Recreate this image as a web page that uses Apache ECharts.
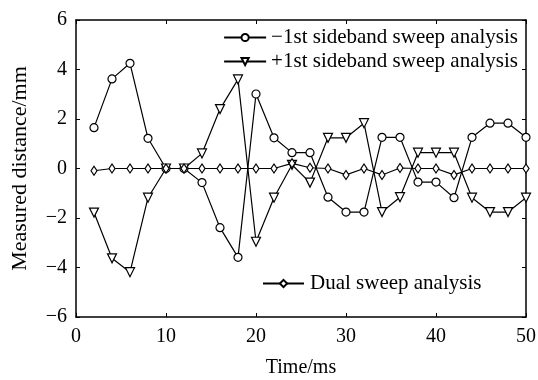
<!DOCTYPE html>
<html>
<head>
<meta charset="utf-8">
<script src="https://cdn.jsdelivr.net/npm/echarts@6/dist/echarts.min.js"></script>
<style>
    html, body { margin: 0; padding: 0; background: #fff; }
    #chart { width: 538px; height: 380px; }
</style>
</head>
<body>
<div id="chart"></div>
<script>
// time axis (ms)
const times = [2, 4, 6, 8, 10, 12, 14, 16, 18, 20, 22, 24, 26, 28, 30, 32, 34, 36, 38, 40, 42, 44, 46, 48, 50];
// -1st sideband sweep analysis
const minusFirst = [1.65, 3.62, 4.25, 1.22, 0, 0, -0.57, -2.39, -3.59, 3.01, 1.24, 0.64, 0.64, -1.16, -1.76, -1.76, 1.26, 1.26, -0.55, -0.55, -1.18, 1.26, 1.83, 1.83, 1.26];
// +1st sideband sweep analysis
const plusFirst = [-1.78, -3.63, -4.19, -1.18, 0, 0, 0.61, 2.4, 3.6, -2.96, -1.18, 0.15, -0.57, 1.24, 1.24, 1.83, -1.76, -1.16, 0.64, 0.64, 0.64, -1.18, -1.76, -1.76, -1.18];
// dual sweep analysis
const dualSweep = [-0.09, 0, 0, 0, 0, 0, 0, 0, 0, 0, 0, 0.21, 0.03, 0, -0.26, 0, -0.26, 0.02, 0, 0, -0.26, 0, 0, 0, 0];

const seriesNames = ["\u22121st sideband sweep analysis", "+1st sideband sweep analysis", "Dual sweep analysis"];

const pair = arr => times.map((t, i) => [t, arr[i]]);

const font = "Liberation Serif";

const chart = echarts.init(document.getElementById("chart"));

const lineSeries = (name, data, symbol, size, rotate) => ({
    name: name,
    type: "line",
    data: pair(data),
    symbol: symbol,
    symbolSize: size,
    symbolRotate: rotate || 0,
    showAllSymbol: true,
    lineStyle: { color: "#000", width: 1.2 },
    itemStyle: { color: "#fff", borderColor: "#000", borderWidth: 1.2 },
    emphasis: { disabled: true },
    animation: false,
    z: 3
});

const axisCommon = {
    axisLine: { show: true, onZero: false, lineStyle: { color: "#000", width: 1.5 } },
    axisTick: { show: true, inside: true, length: 4, lineStyle: { color: "#000" } },
    splitLine: { show: false }
};

chart.setOption({
    backgroundColor: "#fff",
    animation: false,
    grid: { left: 76, right: 12, top: 20, bottom: 63, outerBoundsMode: "none" },
    legend: [
        {
            data: [seriesNames[0], seriesNames[1]],
            orient: "vertical",
            right: 15,
            top: 22,
            itemWidth: 42,
            itemHeight: 9,
            itemGap: 3,
            textStyle: { fontFamily: font, fontSize: 21, color: "#000" }
        },
        {
            data: [seriesNames[2]],
            left: 257,
            top: 268,
            itemWidth: 41,
            itemHeight: 9,
            textStyle: { fontFamily: font, fontSize: 21, color: "#000", padding: [0, 0, 0, 1] }
        }
    ],
    xAxis: [
        Object.assign({
            type: "value",
            min: 0,
            max: 50,
            interval: 10,
            name: "Time/ms",
            nameLocation: "middle",
            nameGap: 41,
            nameTextStyle: { fontFamily: font, fontSize: 20, color: "#000" },
            axisLabel: { fontFamily: font, fontSize: 20, color: "#000", margin: 10 }
        }, axisCommon),
        Object.assign({
            type: "value",
            position: "top",
            min: 0,
            max: 50,
            interval: 10,
            axisLabel: { show: false }
        }, axisCommon)
    ],
    yAxis: [
        Object.assign({
            type: "value",
            min: -6,
            max: 6,
            interval: 2,
            name: "Measured distance/mm",
            nameLocation: "middle",
            nameGap: 45,
            nameTextStyle: { fontFamily: font, fontSize: 22, color: "#000" },
            axisLabel: {
                fontFamily: font, fontSize: 20, color: "#000", margin: 9,
                formatter: v => (v < 0 ? "\u2212" + Math.abs(v) : String(v))
            }
        }, axisCommon),
        Object.assign({
            type: "value",
            position: "right",
            min: -6,
            max: 6,
            interval: 2,
            axisLabel: { show: false }
        }, axisCommon)
    ],
    series: [
        lineSeries(seriesNames[0], minusFirst, "circle", 8),
        lineSeries(seriesNames[1], plusFirst, "triangle", 9, 180),
        lineSeries(seriesNames[2], dualSweep, "diamond", [6, 9])
    ]
});
</script>
</body>
</html>
